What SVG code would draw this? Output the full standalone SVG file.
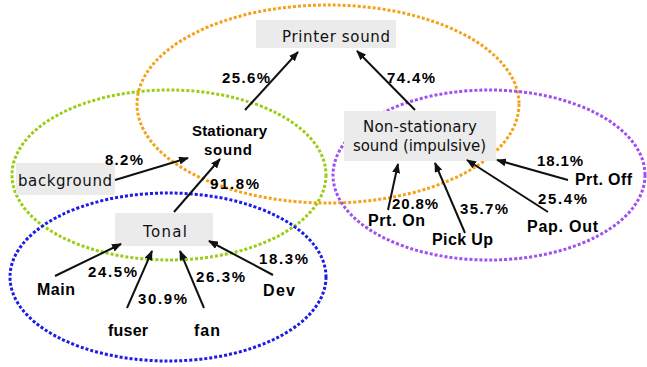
<svg xmlns="http://www.w3.org/2000/svg" width="647" height="367" viewBox="0 0 647 367">
<style>
.ell{fill:none;stroke-width:3;stroke-dasharray:3 2}
.box{fill:#ebebeb}
.bt{font-family:"DejaVu Sans","Liberation Sans",sans-serif;font-size:15px;fill:#111}
.lb{font-family:"Liberation Sans",Arial,sans-serif;font-size:15px;font-weight:bold;fill:#000}
.nm{font-family:"Liberation Sans",Arial,sans-serif;font-size:16px;font-weight:bold;fill:#000}
.con line{stroke:#111;stroke-width:2;marker-end:url(#ah)}
</style>
<defs>
<marker id="ah" markerUnits="userSpaceOnUse" markerWidth="10" markerHeight="8" refX="9" refY="4" orient="auto">
<path d="M0,0 L10,4 L0,8 Z" fill="#111"/>
</marker>
</defs>
<rect width="647" height="367" fill="#fff"/>
<g id="sets">
<ellipse class="ell" cx="328" cy="104" rx="191" ry="99" stroke="#f5a21b"/>
<ellipse class="ell" cx="169" cy="175" rx="157" ry="85" stroke="#9acd14"/>
<ellipse class="ell" cx="168" cy="277" rx="158" ry="84" stroke="#1c1ce8"/>
<ellipse class="ell" cx="489" cy="175" rx="156" ry="85" stroke="#a04ff0"/>
</g>
<g id="printer"><rect class="box" x="256" y="20" width="140" height="28"/><text class="bt" x="282" y="42" textLength="108">Printer sound</text></g>
<g id="nonstat"><rect class="box" x="344" y="111" width="152" height="50"/><text class="bt" x="363" y="132" textLength="114">Non-stationary</text><text class="bt" x="353" y="151" textLength="133">sound (impulsive)</text></g>
<g id="background"><rect class="box" x="16" y="163" width="99" height="32"/><text class="bt" x="18" y="186" textLength="94">background</text></g>
<g id="tonal"><rect class="box" x="115" y="213" width="98" height="33"/><text class="bt" x="143" y="237" textLength="44">Tonal</text></g>
<g id="stationary"><text class="lb" x="192" y="136" textLength="75">Stationary</text><text class="lb" x="204" y="155" textLength="48">sound</text></g>
<g id="main"><text class="nm" x="37" y="295" textLength="38">Main</text></g>
<g id="fuser"><text class="nm" x="108" y="336" textLength="40">fuser</text></g>
<g id="fan"><text class="nm" x="194" y="336" textLength="26">fan</text></g>
<g id="dev"><text class="nm" x="263" y="296" textLength="32">Dev</text></g>
<g id="prton"><text class="nm" x="368" y="226" textLength="57">Prt. On</text></g>
<g id="pickup"><text class="nm" x="432" y="245" textLength="61">Pick Up</text></g>
<g id="papout"><text class="nm" x="527" y="232" textLength="71">Pap. Out</text></g>
<g id="prtoff"><text class="nm" x="575" y="185" textLength="57">Prt. Off</text></g>
<g id="connectors" class="con">
<line x1="245" y1="110" x2="298" y2="52"/>
<line x1="415" y1="110" x2="357" y2="51"/>
<line x1="115" y1="180" x2="188" y2="158"/>
<line x1="174" y1="212" x2="220" y2="159"/>
<line x1="568" y1="180" x2="497" y2="160"/>
<line x1="388" y1="210" x2="398" y2="164"/>
<line x1="465" y1="233" x2="435" y2="163"/>
<line x1="548" y1="212" x2="467" y2="160"/>
<line x1="55" y1="276" x2="121" y2="244"/>
<line x1="127" y1="308" x2="152" y2="251"/>
<line x1="204" y1="308" x2="180" y2="251"/>
<line x1="273" y1="275" x2="209" y2="241"/>
</g>
<g id="labels">
<text class="lb" x="222" y="83" textLength="48">25.6%</text>
<text class="lb" x="387" y="83" textLength="48">74.4%</text>
<text class="lb" x="105" y="165" textLength="38">8.2%</text>
<text class="lb" x="210" y="189" textLength="49">91.8%</text>
<text class="lb" x="537" y="166" textLength="46">18.1%</text>
<text class="lb" x="392" y="209" textLength="46">20.8%</text>
<text class="lb" x="460" y="214" textLength="48">35.7%</text>
<text class="lb" x="538" y="204" textLength="49">25.4%</text>
<text class="lb" x="88" y="277" textLength="49">24.5%</text>
<text class="lb" x="138" y="304" textLength="49">30.9%</text>
<text class="lb" x="196" y="282" textLength="49">26.3%</text>
<text class="lb" x="259" y="264" textLength="49">18.3%</text>
</g>
</svg>
